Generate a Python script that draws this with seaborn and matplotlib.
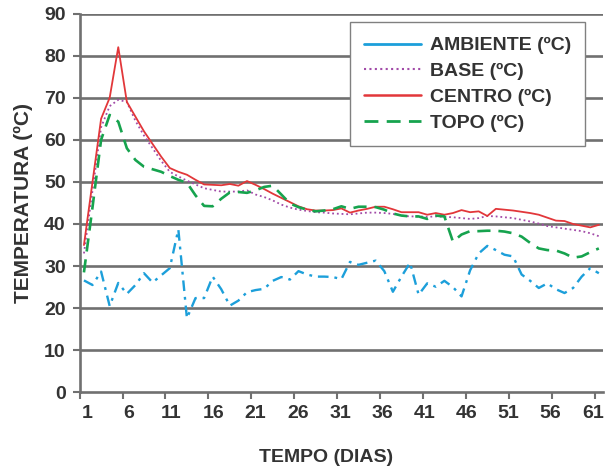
import numpy as np
import pandas as pd
import matplotlib
matplotlib.use("Agg")
import matplotlib.pyplot as plt
import matplotlib.transforms as mtransforms
import seaborn as sns
from matplotlib.lines import Line2D

# 資料
dias = list(range(1, 62))

ambiente = [26.6, 25.5, 28.7, 20.5, 26.0, 23.4, 25.5, 28.3, 26.1, 27.8,
            29.5, 38.7, 17.6, 22.4, 22.4, 27.5, 24.5, 20.6, 21.8, 23.8,
            24.3, 24.6, 26.5, 27.4, 26.8, 28.8, 28.0, 27.5, 27.5, 27.4,
            26.9, 31.0, 30.3, 30.8, 31.3, 28.8, 23.9, 27.5, 30.8, 23.2,
            25.9, 25.1, 26.5, 25.0, 22.8, 29.0, 33.0, 34.8, 33.8, 32.7,
            32.3, 28.0, 26.5, 24.8, 25.9, 24.5, 23.6, 24.8, 27.5, 29.5,
            28.3]

base = [33.0, 48.0, 63.0, 68.0, 69.5, 69.0, 64.5, 61.0, 58.0, 55.0,
        52.4, 51.3, 50.3, 49.4, 48.5, 48.1, 47.7, 47.7, 47.7, 48.0,
        47.0, 46.4, 45.6, 44.6, 43.9, 43.4, 43.1, 42.8, 42.7, 42.5,
        42.4, 42.3, 42.5, 42.7, 42.7, 42.6, 42.4, 42.0, 41.8, 41.8,
        41.7, 41.8, 41.7, 41.6, 41.4, 41.2, 41.4, 41.9, 41.8, 41.6,
        41.4, 41.0, 40.6, 40.1, 39.5, 39.2, 38.9, 38.6, 38.3, 37.8,
        37.1]

centro = [35.0, 50.0, 65.0, 70.0, 82.0, 69.0, 65.5, 62.0, 59.0, 56.0,
          53.3, 52.4, 51.7, 50.5, 49.4, 49.3, 49.2, 49.5, 49.1, 50.2,
          49.3, 48.3, 47.2, 46.2, 45.2, 44.2, 43.5, 43.2, 43.2, 43.3,
          43.7, 42.7, 43.2, 43.6, 44.1, 44.1, 43.5, 42.8, 42.8, 42.8,
          42.2, 42.6, 42.2, 42.6, 43.3, 42.8, 43.0, 41.9, 43.6, 43.4,
          43.2, 42.9, 42.6, 42.2, 41.5, 40.8, 40.7, 40.0, 39.6, 39.2,
          39.8]

topo = [28.5, 44.0, 60.0, 65.9, 64.3, 58.0, 55.2, 53.6, 53.0, 52.4,
        51.4, 50.5, 49.8, 46.8, 44.3, 44.2, 46.0, 47.5, 47.6, 47.4,
        48.0, 48.8, 49.1, 47.0, 44.9, 44.0, 43.4, 43.0, 43.2, 43.5,
        44.2, 43.6, 44.1, 44.1, 44.0, 43.4, 42.5, 42.0, 41.8, 41.8,
        41.2, 42.0, 41.8, 35.8, 37.5, 38.3, 38.3, 38.4, 38.4, 38.2,
        37.8, 37.0, 35.5, 34.2, 33.8, 33.7, 33.0, 32.0, 32.3, 33.3,
        34.2]

x_labels = [str(d) for d in range(1, 62, 5)]
y_ticks = list(range(0, 91, 10))

series_names = ["AMBIENTE (ºC)", "BASE (ºC)", "CENTRO (ºC)", "TOPO (ºC)"]
series_values = [ambiente, base, centro, topo]
colors = ["#1C9FDA", "#A24BA8", "#E2373A", "#16A34E"]

sns.set_theme(style="white")
plt.rcParams['font.family'] = ['Liberation Sans', 'DejaVu Sans']
text_color = "#333333"
grid_color = "#707070"
fs = 14

fig = plt.figure(figsize=(6.08, 4.66), dpi=100)
ax = fig.add_axes([0.131, 0.158, 0.861, 0.813])

# 網格線（水平）
for yv in y_ticks[1:]:
    ax.axhline(yv, color=grid_color, linewidth=1.9, zorder=0)

styles = [
    dict(linestyle=(0, (4.5, 2.5, 1.2, 2.5)), linewidth=1.7),
    dict(linestyle=(0, (1, 1.6)), linewidth=1.3),
    dict(linestyle="-", linewidth=1.3),
    dict(linestyle=(0, (5, 3)), linewidth=1.9),
]

for name, vals, col, st in zip(series_names, series_values, colors, styles):
    df = pd.DataFrame({"dia": dias, "temp": vals})
    sns.lineplot(data=df, x="dia", y="temp", color=col, ax=ax,
                 dash_capstyle="butt", **st)

ax.set_xlim(0.5, 61.5)
ax.set_ylim(0, 90)

ax.set_xticks(list(range(1, 62, 5)))
ax.set_xticklabels(x_labels)
ax.set_xticks([d - 0.5 for d in range(1, 62, 5)], minor=True)
ax.tick_params(axis="x", which="major", length=0, pad=9,
               labelsize=fs, labelcolor=text_color)
ax.tick_params(axis="x", which="minor", length=5, width=1.5,
               color=grid_color, direction="out", bottom=True)

ax.set_yticks(y_ticks)
ax.tick_params(axis="y", which="major", length=5, width=1.5,
               color=grid_color, direction="out", left=True, pad=5,
               labelsize=fs, labelcolor=text_color)
for lab in ax.get_xticklabels() + ax.get_yticklabels():
    lab.set_fontweight("bold")

# 標籤略向左移，避免 "61" 被切掉
xlabs = ax.get_xticklabels()
n = len(xlabs)
for i, lab in enumerate(xlabs):
    dx = 3 - 9 * i / (n - 1)
    lab.set_transform(lab.get_transform() +
                      mtransforms.ScaledTranslation(dx / 100, 0, fig.dpi_scale_trans))

for side in ["top", "right"]:
    ax.spines[side].set_visible(False)
for side in ["left", "bottom"]:
    ax.spines[side].set_color(grid_color)
    ax.spines[side].set_linewidth(1.9)

ax.set_xlabel("TEMPO (DIAS)", fontsize=fs, fontweight="bold",
              color=text_color, labelpad=14)
ax.xaxis.set_label_coords(0.47, -0.15)
ax.set_ylabel("TEMPERATURA (ºC)", fontsize=fs + 1, fontweight="bold",
              color=text_color, labelpad=8)

# 圖例（AMBIENTE 在圖例中為實線）
handles = [
    Line2D([], [], color=colors[0], linewidth=2.0),
    Line2D([], [], color=colors[1], linewidth=1.5, linestyle=(0, (1, 1.6))),
    Line2D([], [], color=colors[2], linewidth=1.8),
    Line2D([], [], color=colors[3], linewidth=2.0, linestyle=(0, (5, 3))),
]
leg = ax.legend(handles, series_names, loc="upper right",
                bbox_to_anchor=(0.966, 0.977), borderaxespad=0,
                frameon=True, fancybox=False,
                handlelength=2.9, handletextpad=0.45, labelspacing=0.42,
                borderpad=0.75, prop={"weight": "bold", "size": fs})
leg.get_frame().set_edgecolor("#808080")
leg.get_frame().set_linewidth(1.0)
leg.get_frame().set_alpha(1.0)
for t in leg.get_texts():
    t.set_color(text_color)

fig.savefig("out.png", dpi=100)
